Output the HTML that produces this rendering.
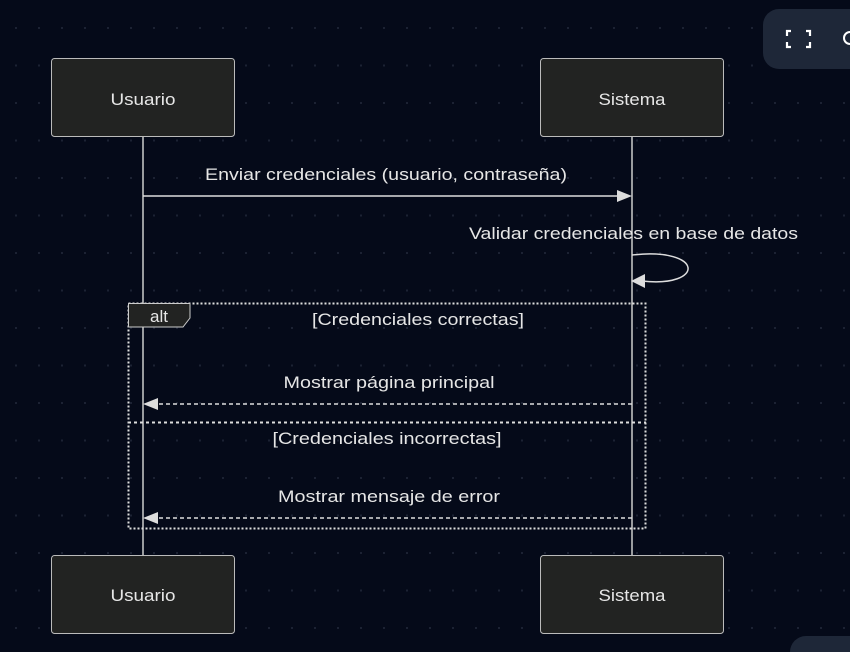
<!DOCTYPE html>
<html><head><meta charset="utf-8"><style>
html,body{margin:0;padding:0;background:#050a19;}
svg{display:block}
text{font-family:"Liberation Sans",sans-serif;fill:#e6e6e6;font-size:17px}
</style></head><body>
<svg width="850" height="652" viewBox="0 0 850 652" xmlns="http://www.w3.org/2000/svg">
<defs>
<pattern id="dots" x="15" y="27" width="23" height="37.5" patternUnits="userSpaceOnUse">
<rect x="0" y="0" width="2" height="2" fill="#1c2233"/>
</pattern>
</defs>
<rect width="850" height="652" fill="#050a19"/>
<rect width="850" height="652" fill="url(#dots)"/>
<rect x="763" y="9" width="110" height="60" rx="16" fill="#1e2738"/>
<path d="M787 36v-5h4M806 31h4v5M787 42v5h4M806 47h4v-5" stroke="#fff" stroke-width="2.2" fill="none"/>
<circle cx="850" cy="38" r="6" stroke="#fff" stroke-width="2" fill="none"/>
<rect x="790" y="636" width="80" height="40" rx="16" fill="#1e2738"/>
<line x1="143" y1="137" x2="143" y2="555" stroke="#ccc" stroke-width="1.5"/>
<line x1="632" y1="137" x2="632" y2="555" stroke="#ccc" stroke-width="1.5"/>
<rect x="51.5" y="58.5" width="183" height="78" rx="3" fill="#222322" stroke="#bbb"/>
<rect x="540.5" y="58.5" width="183" height="78" rx="3" fill="#222322" stroke="#bbb"/>
<rect x="51.5" y="555.5" width="183" height="78" rx="3" fill="#222322" stroke="#bbb"/>
<rect x="540.5" y="555.5" width="183" height="78" rx="3" fill="#222322" stroke="#bbb"/>
<text x="143" y="105" text-anchor="middle" font-size="18" textLength="65" lengthAdjust="spacingAndGlyphs">Usuario</text>
<text x="632" y="105" text-anchor="middle" font-size="18" textLength="67" lengthAdjust="spacingAndGlyphs">Sistema</text>
<text x="143" y="601" text-anchor="middle" font-size="18" textLength="65" lengthAdjust="spacingAndGlyphs">Usuario</text>
<text x="632" y="601" text-anchor="middle" font-size="18" textLength="67" lengthAdjust="spacingAndGlyphs">Sistema</text>
<text x="205" y="180" textLength="362" lengthAdjust="spacingAndGlyphs">Enviar credenciales (usuario, contraseña)</text>
<line x1="143" y1="196" x2="620" y2="196" stroke="#ddd" stroke-width="1.5"/>
<polygon points="632,196 617,190 617,202" fill="#ddd"/>
<text x="469" y="239" textLength="329" lengthAdjust="spacingAndGlyphs">Validar credenciales en base de datos</text>
<path d="M632 255 C 705 247, 705 288, 642 281" stroke="#ddd" stroke-width="1.5" fill="none"/>
<polygon points="631,281 645,274 645,288" fill="#ddd"/>
<rect x="128.5" y="303.5" width="517" height="225" fill="none" stroke="#ddd" stroke-width="2" stroke-dasharray="2,2"/>
<line x1="128" y1="422.5" x2="646" y2="422.5" stroke="#ddd" stroke-width="2" stroke-dasharray="3,3"/>
<polygon points="128.5,303.5 190,303.5 190,318 183,327 128.5,327" fill="#222322" stroke="#ccc"/>
<text x="159" y="322" text-anchor="middle">alt</text>
<text x="418" y="325" text-anchor="middle" textLength="212" lengthAdjust="spacingAndGlyphs">[Credenciales correctas]</text>
<text x="389" y="388" text-anchor="middle" textLength="211" lengthAdjust="spacingAndGlyphs">Mostrar página principal</text>
<line x1="632" y1="404" x2="155" y2="404" stroke="#ddd" stroke-width="1.5" stroke-dasharray="4,3"/>
<polygon points="143,404 158,398 158,410" fill="#ddd"/>
<text x="387" y="444" text-anchor="middle" textLength="229" lengthAdjust="spacingAndGlyphs">[Credenciales incorrectas]</text>
<text x="389" y="502" text-anchor="middle" textLength="222" lengthAdjust="spacingAndGlyphs">Mostrar mensaje de error</text>
<line x1="632" y1="518" x2="155" y2="518" stroke="#ddd" stroke-width="1.5" stroke-dasharray="4,3"/>
<polygon points="143,518 158,512 158,524" fill="#ddd"/>
</svg>
</body></html>
